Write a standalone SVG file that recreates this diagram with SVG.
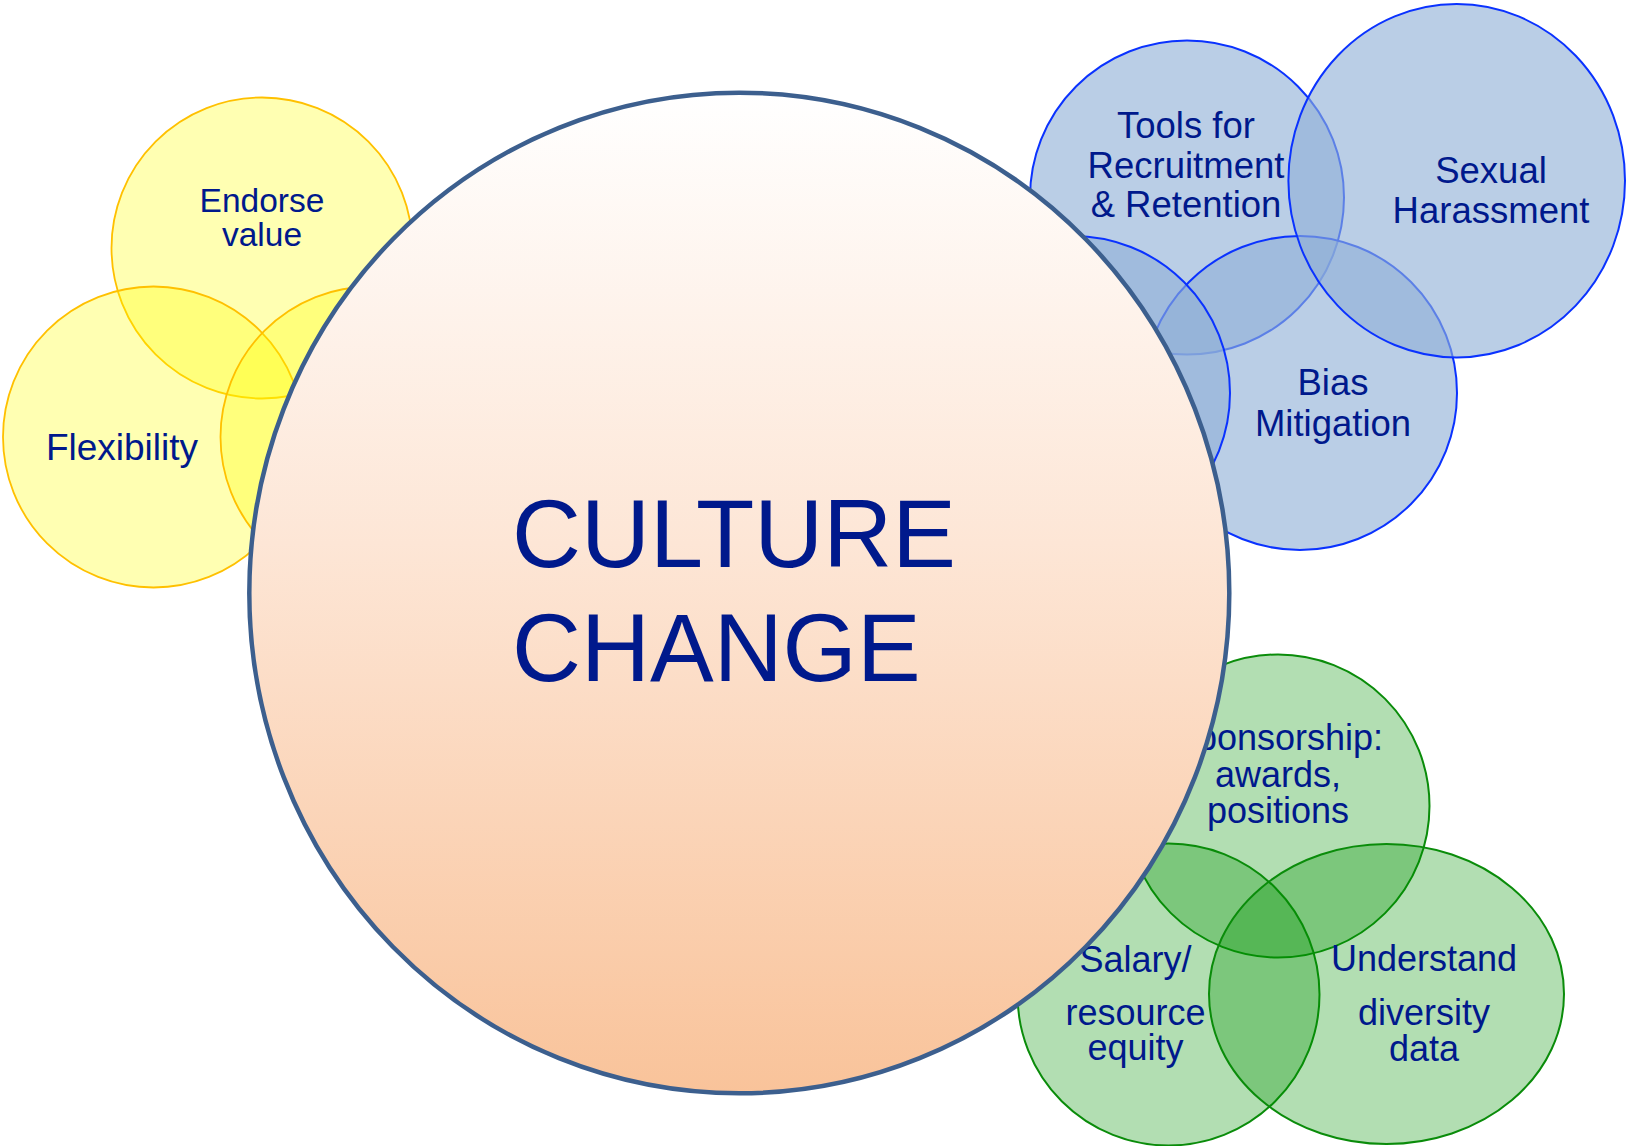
<svg xmlns="http://www.w3.org/2000/svg" width="1626" height="1146" viewBox="0 0 1626 1146">
  <defs>
    <linearGradient id="peach" x1="0" y1="0" x2="0" y2="1">
      <stop offset="0" stop-color="#ffffff"/>
      <stop offset="0.45" stop-color="#fde6d6"/>
      <stop offset="1" stop-color="#f9c39a"/>
    </linearGradient>
    <style>
      .yel { fill: #ffff00; fill-opacity: 0.3; stroke: #ffc000; stroke-width: 1.8; }
      .blu { fill: #8fb0d6; fill-opacity: 0.62; stroke: #0a32ff; stroke-width: 2; }
      .grn { fill: #009100; fill-opacity: 0.3; stroke: #0a8c0a; stroke-width: 2; }
      .lbl { font-family: "Liberation Sans", Arial, sans-serif; fill: #00198c; text-anchor: middle; font-size: 36px; }
      .big { font-family: "Liberation Sans", Arial, sans-serif; fill: #00198c; font-size: 95.5px; }
    </style>
  </defs>
  <rect width="1626" height="1146" fill="#ffffff"/>

  <g id="node-endorse">
    <circle class="yel" cx="262" cy="248" r="150.5"/>
    <text class="lbl" style="font-size:33.5px" x="262" y="211.5">Endorse</text>
    <text class="lbl" style="font-size:33.5px" x="262" y="245.5">value</text>
  </g>
  <g id="node-flexibility">
    <circle class="yel" cx="153.5" cy="437" r="150.5"/>
    <text class="lbl" style="font-size:37px" x="122" y="460">Flexibility</text>
  </g>
  <g id="node-yellow3">
    <circle class="yel" cx="371" cy="437" r="150.5"/>
  </g>

  <g id="node-tools">
    <circle class="blu" cx="1187" cy="197.5" r="157"/>
    <text class="lbl" style="font-size:36.5px" x="1186" y="138">Tools for</text>
    <text class="lbl" style="font-size:36.5px" x="1186" y="177.5">Recruitment</text>
    <text class="lbl" style="font-size:36.5px" x="1186" y="217">&amp; Retention</text>
  </g>
  <g id="node-bias">
    <circle class="blu" cx="1300" cy="393" r="157"/>
    <text class="lbl" style="font-size:36.5px" x="1333" y="395">Bias</text>
    <text class="lbl" style="font-size:36.5px" x="1333" y="436">Mitigation</text>
  </g>
  <g id="node-blue4">
    <circle class="blu" cx="1073" cy="393" r="157"/>
  </g>
  <g id="node-harassment">
    <ellipse class="blu" cx="1456.7" cy="180.7" rx="168.3" ry="176.7"/>
    <text class="lbl" style="font-size:36.5px" x="1491" y="182.7">Sexual</text>
    <text class="lbl" style="font-size:36.5px" x="1491" y="222.7">Harassment</text>
  </g>

  <g id="node-sponsorship">
    <circle class="grn" cx="1278" cy="806" r="151.5"/>
    <text class="lbl" x="1278" y="750">Sponsorship:</text>
    <text class="lbl" x="1278" y="786.7">awards,</text>
    <text class="lbl" x="1278" y="823.3">positions</text>
  </g>
  <g id="node-salary">
    <circle class="grn" cx="1168.5" cy="994.5" r="151"/>
    <text class="lbl" x="1135.5" y="971.5">Salary/</text>
    <text class="lbl" x="1135.5" y="1025">resource</text>
    <text class="lbl" x="1135.5" y="1060">equity</text>
  </g>
  <g id="node-understand">
    <ellipse class="grn" cx="1386.5" cy="994" rx="177.5" ry="150"/>
    <text class="lbl" x="1424" y="971">Understand</text>
    <text class="lbl" x="1424" y="1025">diversity</text>
    <text class="lbl" x="1424" y="1061">data</text>
  </g>

  <g id="node-culture-change">
    <ellipse cx="739.3" cy="593" rx="490" ry="500.3" fill="url(#peach)" stroke="#3c5f8e" stroke-width="4.5"/>
    <text class="big" x="512" y="567">CULTURE</text>
    <text class="big" x="512" y="681">CHANGE</text>
  </g>

  <g id="connectors"/>
</svg>
